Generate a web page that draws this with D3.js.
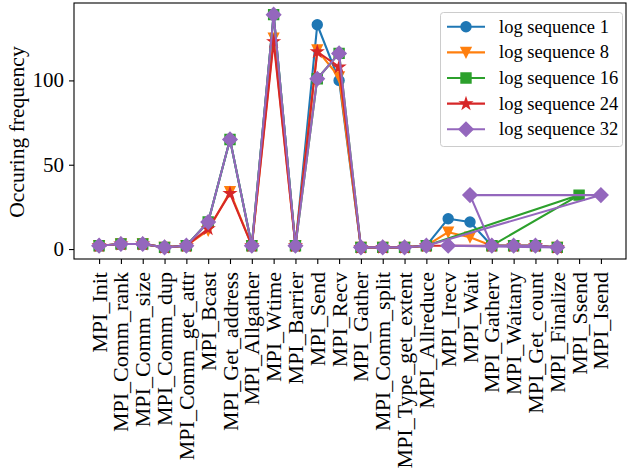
<!DOCTYPE html>
<html>
<head>
<meta charset="utf-8">
<script src="https://cdn.jsdelivr.net/npm/d3@7/dist/d3.min.js"></script>
<style>
  html, body { margin: 0; padding: 0; background: #fff; }
  svg { display: block; font-family: "Liberation Serif", "Times New Roman", serif; }
</style>
</head>
<body>
<svg id="chart" width="629" height="470"></svg>
<script>
// ---------------- data ----------------
const categories = ["MPI_Init","MPI_Comm_rank","MPI_Comm_size","MPI_Comm_dup","MPI_Comm_get_attr",
  "MPI_Bcast","MPI_Get_address","MPI_Allgather","MPI_Wtime","MPI_Barrier","MPI_Send","MPI_Recv",
  "MPI_Gather","MPI_Comm_split","MPI_Type_get_extent","MPI_Allreduce","MPI_Irecv","MPI_Wait",
  "MPI_Gatherv","MPI_Waitany","MPI_Get_count","MPI_Finalize","MPI_Ssend","MPI_Isend"];

const yTicks = [0, 50, 100];
const seriesNames = ["log sequence 1","log sequence 8","log sequence 16","log sequence 24","log sequence 32"];
const seriesColors = ["#1f77b4","#ff7f0e","#2ca02c","#d62728","#9467bd"];
const seriesMarkers = ["circle","triangleDown","square","star","diamond"];

// each series: calls in the order they were logged, with counts
const seq1Calls = ["MPI_Init","MPI_Comm_rank","MPI_Comm_size","MPI_Comm_dup","MPI_Comm_get_attr","MPI_Bcast",
  "MPI_Get_address","MPI_Allgather","MPI_Wtime","MPI_Barrier","MPI_Send","MPI_Recv","MPI_Gather",
  "MPI_Comm_split","MPI_Type_get_extent","MPI_Allreduce","MPI_Irecv","MPI_Wait","MPI_Gatherv",
  "MPI_Waitany","MPI_Get_count","MPI_Finalize"];
const seq1Values = [2,3,3,1,2,16,65,2,139,2,133,100,1,1,1,2,18,16,2,2,2,1];

const seq8Calls = seq1Calls;
const seq8Values = [2,3,3,1,2,11,34,2,125,2,118,102,1,1,1,2,10,7,2,2,2,1];

const seq16Calls = ["MPI_Init","MPI_Comm_rank","MPI_Comm_size","MPI_Comm_dup","MPI_Comm_get_attr","MPI_Bcast",
  "MPI_Get_address","MPI_Allgather","MPI_Wtime","MPI_Barrier","MPI_Send","MPI_Recv","MPI_Gather",
  "MPI_Comm_split","MPI_Type_get_extent","MPI_Allreduce","MPI_Ssend","MPI_Gatherv",
  "MPI_Waitany","MPI_Get_count","MPI_Finalize"];
const seq16Values = [2,3,3,1,2,16,65,2,139,2,101,116,1,1,1,2,32,2,2,2,1];

const seq24Calls = ["MPI_Init","MPI_Comm_rank","MPI_Comm_size","MPI_Comm_dup","MPI_Comm_get_attr","MPI_Bcast",
  "MPI_Get_address","MPI_Allgather","MPI_Wtime","MPI_Barrier","MPI_Send","MPI_Recv","MPI_Gather",
  "MPI_Comm_split","MPI_Type_get_extent","MPI_Allreduce","MPI_Gatherv",
  "MPI_Waitany","MPI_Get_count","MPI_Finalize"];
const seq24Values = [2,3,3,1,2,12,33,2,123,2,117,108,1,1,1,2,2,2,2,1];

const seq32Calls = ["MPI_Init","MPI_Comm_rank","MPI_Comm_size","MPI_Comm_dup","MPI_Comm_get_attr","MPI_Bcast",
  "MPI_Get_address","MPI_Allgather","MPI_Wtime","MPI_Barrier","MPI_Send","MPI_Recv","MPI_Gather",
  "MPI_Comm_split","MPI_Type_get_extent","MPI_Allreduce","MPI_Isend","MPI_Wait","MPI_Gatherv",
  "MPI_Waitany","MPI_Get_count","MPI_Finalize","MPI_Irecv"];
const seq32Values = [2,3,3,1,2,16,65,2,139,2,101,116,1,1,1,2,32,32,2,2,2,1,2];

const seriesCalls = [seq1Calls, seq8Calls, seq16Calls, seq24Calls, seq32Calls];
const seriesValues = [seq1Values, seq8Values, seq16Values, seq24Values, seq32Values];

// ---------------- layout ----------------
const svg = d3.select("#chart");
const plot = { left: 74, right: 626, top: 3, bottom: 259 };
const FONT = 21;
const XFONT = 22;

const x = d3.scalePoint().domain(categories).range([plot.left, plot.right]).padding(1.15);
const allVals = seriesValues.flat();
const yMin = d3.min(allVals), yMax = d3.max(allVals);
const yPad = (yMax - yMin) * 0.05;
const y = d3.scaleLinear().domain([yMin - yPad, yMax + yPad]).range([plot.bottom, plot.top]);

// marker paths (matplotlib-like shapes), size in px
const MS = 10;
function markerPath(type, s) {
  const h = s / 2;
  switch (type) {
    case "circle": return d3.symbol(d3.symbolCircle, Math.PI * h * h)();
    case "square": return `M${-h},${-h}L${h},${-h}L${h},${h}L${-h},${h}Z`;
    case "diamond": { const d = h * Math.SQRT2; return `M0,${-d}L${d},0L0,${d}L${-d},0Z`; }
    case "triangleDown": return `M${-h},${-h}L${h},${-h}L0,${h}Z`;
    case "star": {
      const R = h * 1.15, r = R * 0.381966; let p = "";
      for (let i = 0; i < 10; i++) {
        const a = -Math.PI / 2 + i * Math.PI / 5; const rr = i % 2 ? r : R;
        p += (i ? "L" : "M") + (rr * Math.cos(a)).toFixed(2) + "," + (rr * Math.sin(a)).toFixed(2);
      }
      return p + "Z";
    }
  }
}

// ---------------- axes ----------------
const xAxis = d3.axisBottom(x).tickSize(5).tickSizeOuter(0).tickFormat("");
svg.append("g").attr("transform", `translate(0,${plot.bottom})`).call(xAxis)
  .call(g => g.select(".domain").remove())
  .call(g => g.selectAll(".tick line").attr("stroke", "#000").attr("stroke-width", 1.1));

const yAxis = d3.axisLeft(y).tickValues(yTicks).tickSize(5).tickFormat("");
svg.append("g").attr("transform", `translate(${plot.left},0)`).call(yAxis)
  .call(g => g.select(".domain").remove())
  .call(g => g.selectAll(".tick line").attr("stroke", "#000").attr("stroke-width", 1.1));

// tick labels
const xl = plot.bottom + 13;
svg.append("g").selectAll("text").data(categories).join("text")
  .attr("x", d => x(d)).attr("y", xl)
  .attr("transform", d => `rotate(-90, ${x(d)}, ${xl})`)
  .attr("text-anchor", "end").attr("dominant-baseline", "central")
  .attr("font-size", XFONT).attr("fill", "#000").text(d => d);

svg.append("g").selectAll("text").data(yTicks).join("text")
  .attr("x", plot.left - 10).attr("y", d => y(d))
  .attr("text-anchor", "end").attr("dominant-baseline", "central")
  .attr("font-size", FONT).attr("fill", "#000").text(d => d);

svg.append("text")
  .attr("transform", `translate(17, ${(plot.top + plot.bottom) / 2 + 1}) rotate(-90)`)
  .attr("text-anchor", "middle").attr("dominant-baseline", "central")
  .attr("font-size", 21.5).attr("fill", "#000").text("Occuring frequency");

// ---------------- series ----------------
const line = d3.line().x(d => x(d.c)).y(d => y(d.v));
const gSeries = svg.append("g");
seriesNames.forEach((name, i) => {
  const pts = seriesCalls[i].map((c, j) => ({ c, v: seriesValues[i][j] }));
  const g = gSeries.append("g");
  g.append("path").datum(pts).attr("d", line)
    .attr("fill", "none").attr("stroke", seriesColors[i]).attr("stroke-width", 2.1)
    .attr("stroke-linejoin", "round").attr("stroke-linecap", "square");
  g.selectAll("path.m").data(pts).join("path").attr("class", "m")
    .attr("transform", d => `translate(${x(d.c)},${y(d.v)})`)
    .attr("d", markerPath(seriesMarkers[i], MS))
    .attr("fill", seriesColors[i]).attr("stroke", seriesColors[i]).attr("stroke-width", 1.4)
    .attr("stroke-linejoin", "miter");
});

// frame
svg.append("rect").attr("x", plot.left).attr("y", plot.top)
  .attr("width", plot.right - plot.left).attr("height", plot.bottom - plot.top)
  .attr("fill", "none").attr("stroke", "#000").attr("stroke-width", 1.1);

// ---------------- legend ----------------
const lg = svg.append("g");
lg.append("rect").attr("x", 440.5).attr("y", 12.5).attr("width", 182).attr("height", 134)
  .attr("rx", 3).attr("fill", "#fff").attr("fill-opacity", 0.8)
  .attr("stroke", "#cccccc").attr("stroke-width", 1);
seriesNames.forEach((name, i) => {
  const cy = 26.7 + i * 25.65;
  lg.append("line").attr("x1", 447).attr("x2", 485).attr("y1", cy).attr("y2", cy)
    .attr("stroke", seriesColors[i]).attr("stroke-width", 2.1);
  lg.append("path").attr("transform", `translate(466,${cy})`).attr("d", markerPath(seriesMarkers[i], MS))
    .attr("fill", seriesColors[i]).attr("stroke", seriesColors[i]).attr("stroke-width", 1.4);
  lg.append("text").attr("x", 499).attr("y", cy).attr("dominant-baseline", "central")
    .attr("font-size", 18.5).attr("fill", "#000").text(name);
});
</script>
</body>
</html>
